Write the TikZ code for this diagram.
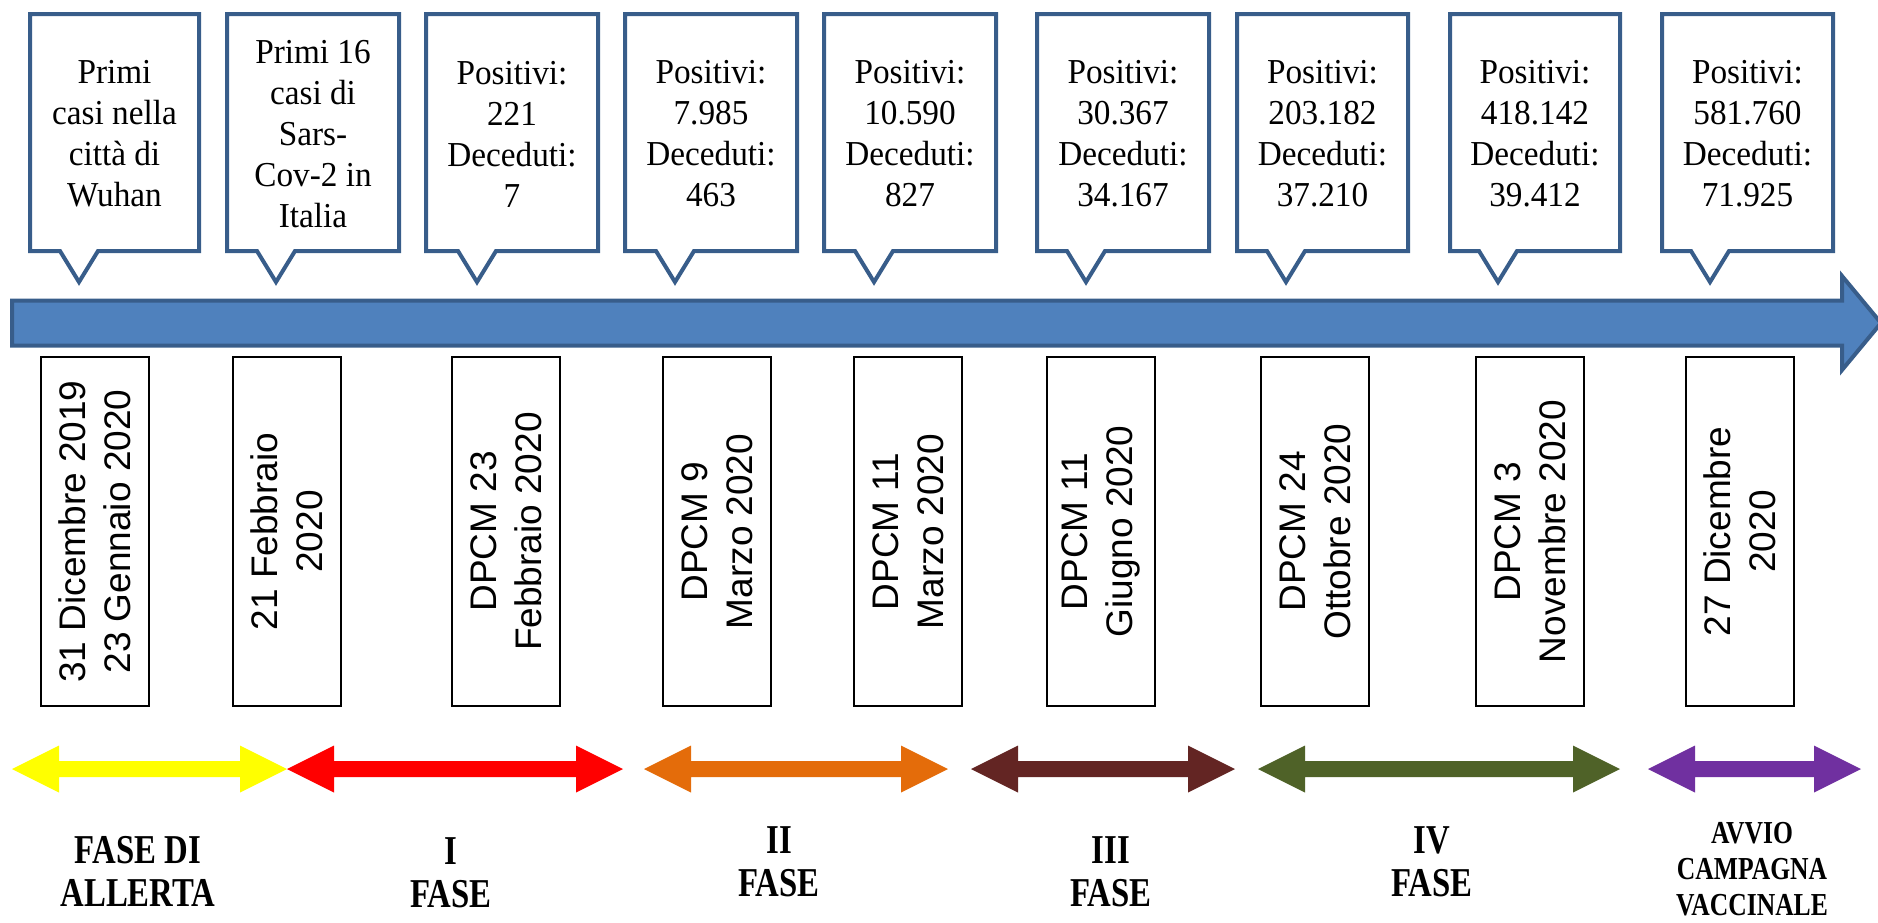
\documentclass[tikz,border=0pt]{standalone}
\usepackage{fontspec}
\setmainfont{Liberation Serif}
\setsansfont{Liberation Sans}
\newfontfamily\callfont[FakeStretch=0.95]{Liberation Serif}
\newfontfamily\phasefont[FakeStretch=0.8]{Liberation Serif}

\definecolor{callblue}{HTML}{385D8A}
\definecolor{barblue}{HTML}{4F81BD}
\definecolor{phyellow}{HTML}{FFFF00}
\definecolor{phred}{HTML}{FF0000}
\definecolor{phorange}{HTML}{E46C0A}
\definecolor{phbrown}{HTML}{632523}
\definecolor{phgreen}{HTML}{4F6228}
\definecolor{phpurple}{HTML}{7030A0}

\tikzset{
  callout/.style={draw=callblue, line width=2pt, fill=white},
  calltext/.style={align=center, inner sep=0pt, font=\callfont\fontsize{17.5}{20.5}\selectfont},
  datebox/.style={draw, line width=1pt, fill=white, rotate=90, align=center,
    minimum width=174.5pt, minimum height=54pt, inner sep=0pt,
    font=\sffamily\fontsize{18.5}{22.5}\selectfont},
  phase/.style={align=center, inner sep=0pt, font=\phasefont\bfseries\fontsize{20.5}{21.5}\selectfont}
}

\begin{document}
\begin{tikzpicture}[x=0.5pt, y=-0.5pt]
      \def\tailw{19}
      \def\headl{47}

      \useasboundingbox (0,0) rectangle (1878,922);

      % timeline arrow
      \draw[line width=2pt, draw=callblue, fill=barblue] (12,300.5) -- (1842,300.5) -- (1842,276)
        -- (1881,323) -- (1842,370) -- (1842,345.5) -- (12,345.5) -- cycle;

      % callouts above the arrow
      \foreach \l/\r/\t/\txt [count=\i] in {
          30/199/79/{Primi\\casi nella\\città di\\Wuhan},
          227/399/276/{Primi 16\\casi di\\Sars-\\Cov-2 in\\Italia},
          426/598/477/{Positivi:\\221\\Deceduti:\\7},
          625/797/675/{Positivi:\\7.985\\Deceduti:\\463},
          824/996/874/{Positivi:\\10.590\\Deceduti:\\827},
          1037/1209/1086/{Positivi:\\30.367\\Deceduti:\\34.167},
          1237/1408/1286/{Positivi:\\203.182\\Deceduti:\\37.210},
          1450/1620/1498/{Positivi:\\418.142\\Deceduti:\\39.412},
          1662/1833/1710/{Positivi:\\581.760\\Deceduti:\\71.925}} {
        \draw[callout] (\l,14) -- (\r,14) -- (\r,251) -- (\t+\tailw,251) -- (\t,282)
          -- (\t-\tailw,251) -- (\l,251) -- cycle;
        \node[calltext] (call\i) at ({(\l+\r)/2},134) {\txt};
      }

      % dates below the arrow
      \foreach \x/\txt [count=\i] in {
          95/{31 Dicembre 2019\\23 Gennaio 2020},
          287/{21 Febbraio\\2020},
          506/{DPCM 23\\Febbraio 2020},
          717/{DPCM 9\\Marzo 2020},
          908/{DPCM 11\\Marzo 2020},
          1101/{DPCM 11\\Giugno 2020},
          1315/{DPCM 24\\Ottobre 2020},
          1530/{DPCM 3\\Novembre 2020},
          1740/{27 Dicembre\\2020}} {
        \node[datebox] (date\i) at (\x,531.5) {\txt};
      }

      % phases
      \foreach \a/\b/\c in {12/287/phyellow, 287/623/phred, 644/948/phorange,
          971/1235/phbrown, 1258/1620/phgreen, 1648/1861/phpurple} {
        \fill[\c] (\a,769) -- (\a+\headl,745.5) -- (\a+\headl,761) -- (\b-\headl,761)
          -- (\b-\headl,745.5) -- (\b,769) -- (\b-\headl,792.5) -- (\b-\headl,777)
          -- (\a+\headl,777) -- (\a+\headl,792.5) -- cycle;
      }

      \node[phase] (fase0) at (138,871) {FASE DI\\ALLERTA};
      \node[phase] (fase1) at (451,873) {I\\FASE};
      \node[phase] (fase2) at (779,862) {II\\FASE};
      \node[phase] (fase3) at (1111,872) {III\\FASE};
      \node[phase] (fase4) at (1432,862) {IV\\FASE};
      \node[phase, font=\phasefont\bfseries\fontsize{16}{18}\selectfont] (vacc) at (1752,869) {AVVIO\\CAMPAGNA\\VACCINALE};

    \end{tikzpicture}
\end{document}
